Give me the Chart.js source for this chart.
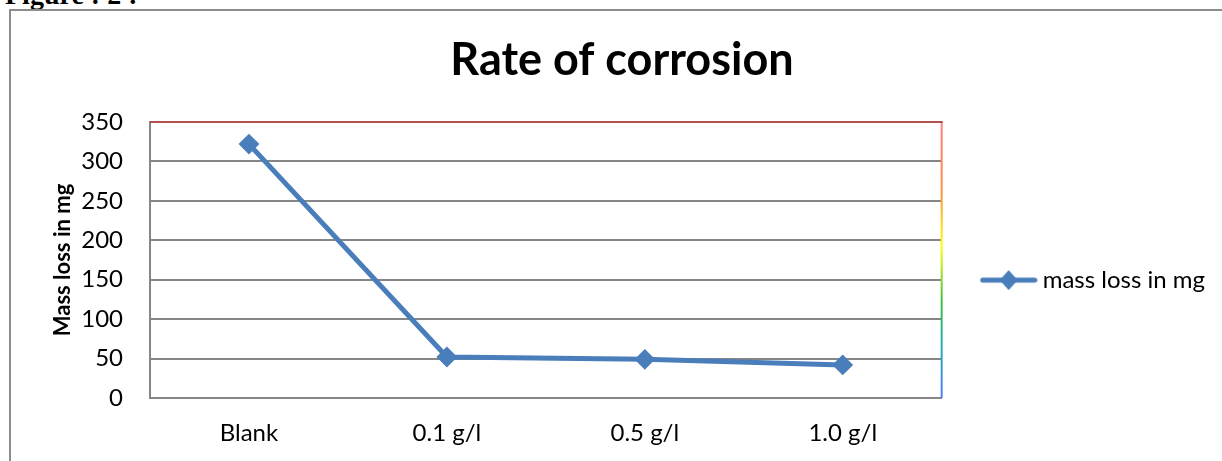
<!DOCTYPE html>
<html>
<head>
<meta charset="utf-8">
<script src="https://cdn.jsdelivr.net/npm/chart.js@4.4.1/dist/chart.umd.min.js"></script>
<style>
  html, body { margin: 0; padding: 0; background: #fff; overflow: hidden; }
  #wrap { position: relative; width: 1222px; height: 461px; overflow: hidden; }
  #frame { position: absolute; left: 9px; top: 9px; width: 1300px; height: 600px;
           border-left: 2px solid #8c8c8c; border-top: 2px solid #8c8c8c; box-sizing: border-box; }
  #fig { position: absolute; left: 5px; top: -21px; font: bold 28px/32px "Liberation Serif", serif; color: #000; white-space: nowrap; }
  canvas { position: absolute; left: 29px; top: 0; }
</style>
</head>
<body>
<div id="wrap">
  <div id="fig">Figure : 2 :</div>
  <div id="frame"></div>
  <canvas id="c" width="1193" height="461"></canvas>
</div>
<script>
const categories = ["Blank", "0.1 g/l", "0.5 g/l", "1.0 g/l"];
const massLoss = [322, 52, 49, 42];
const seriesName = "mass loss in mg";
const chartTitle = "Rate of corrosion";
const yAxisTitle = "Mass loss in mg";
const yMin = 0, yMax = 350, yStep = 50;

const BLUE = '#4a7ebb';
const FONT = 'Lato, "Open Sans", sans-serif';

// legend icon: line with diamond
const icon = document.createElement('canvas');
icon.width = 58; icon.height = 22;
(function(){
  const g = icon.getContext('2d');
  g.strokeStyle = BLUE; g.lineWidth = 5; g.lineCap = 'round';
  g.beginPath(); g.moveTo(3, 11); g.lineTo(55, 11); g.stroke();
  g.fillStyle = BLUE;
  g.beginPath(); g.moveTo(29, 1); g.lineTo(38, 11); g.lineTo(29, 21); g.lineTo(20, 11); g.closePath(); g.fill();
})();

const borderPlugin = {
  id: 'plotBorders',
  afterDatasetsDraw(chart) {
    const {ctx, chartArea: a} = chart;
    ctx.save();
    const grad = ctx.createLinearGradient(0, a.top, 0, a.bottom);
    grad.addColorStop(0, '#ff8080');
    grad.addColorStop(0.25, '#ff9040');
    grad.addColorStop(0.45, '#ffff00');
    grad.addColorStop(0.65, '#40c040');
    grad.addColorStop(0.8, '#20b0b0');
    grad.addColorStop(1, '#5080ff');
    ctx.strokeStyle = grad; ctx.lineWidth = 2;
    ctx.beginPath(); ctx.moveTo(a.right, a.top); ctx.lineTo(a.right, a.bottom); ctx.stroke();
    ctx.strokeStyle = '#b0504f';
    ctx.beginPath(); ctx.moveTo(a.left, a.top); ctx.lineTo(a.right + 1, a.top); ctx.stroke();
    ctx.restore();
  }
};

new Chart(document.getElementById('c'), {
  type: 'line',
  data: {
    labels: categories,
    datasets: [{
      label: seriesName,
      data: massLoss,
      borderColor: BLUE,
      backgroundColor: BLUE,
      borderWidth: 5,
      pointStyle: 'rectRot',
      pointRadius: 9,
      pointBorderWidth: 2,
      pointBackgroundColor: BLUE,
      pointBorderColor: BLUE,
      tension: 0
    }]
  },
  options: {
    responsive: false,
    animation: false,
    devicePixelRatio: 1,
    layout: { padding: { left: 0, right: 7, top: 0, bottom: 0 } },
    plugins: {
      tooltip: { enabled: false },
      title: {
        display: true,
        text: chartTitle,
        color: '#000',
        font: { family: FONT, size: 45, weight: 'bold' },
        padding: { top: 33, bottom: 35 }
      },
      legend: {
        position: 'right',
        title: { display: true, text: ' ', font: { size: 1 }, padding: { top: 98, bottom: 0 } },
        labels: {
          color: '#000',
          font: { family: FONT, size: 24 },
          usePointStyle: true,
          pointStyleWidth: 44,
          padding: 45,
          generateLabels(chart) {
            return [{ text: seriesName, pointStyle: icon, fillStyle: BLUE, strokeStyle: BLUE, lineWidth: 0, datasetIndex: 0, fontColor: '#000' }];
          }
        }
      }
    },
    scales: {
      x: {
        offset: true,
        grid: { display: false, drawTicks: false },
        border: { display: true, color: '#868686', width: 2 },
        ticks: { color: '#000', font: { family: FONT, size: 24 }, padding: 21, maxRotation: 0 },
        afterFit(s) { s.height = 63; }
      },
      y: {
        min: yMin, max: yMax,
        ticks: { stepSize: yStep, color: '#000', font: { family: FONT, size: 24 }, padding: 27 },
        grid: {
          drawTicks: false,
          lineWidth: 2,
          color: (c) => (c.tick && c.tick.value === yMax) ? '#b0504f' : '#868686'
        },
        border: { display: true, color: '#868686', width: 2 },
        title: {
          display: true, text: yAxisTitle, color: '#000',
          font: { family: FONT, size: 22, weight: 'bold' },
          padding: { top: 21, bottom: 0 }
        },
        afterFit(s) { s.width = 121; }
      }
    }
  },
  plugins: [borderPlugin]
});
</script>
</body>
</html>
